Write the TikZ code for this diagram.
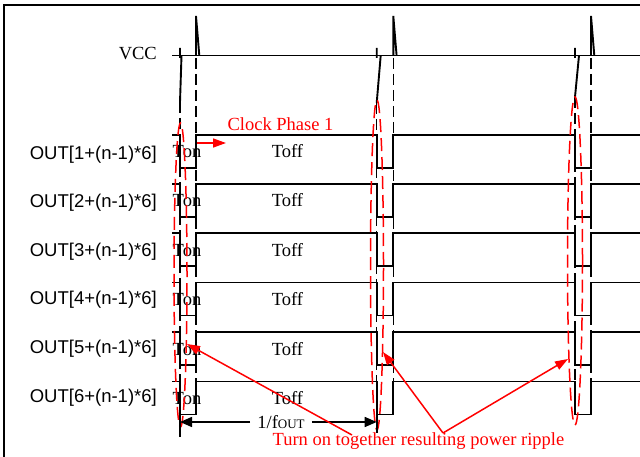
\documentclass[tikz,border=0pt]{standalone}
\usepackage{fontspec}
\setmainfont{Liberation Serif}
\newfontfamily\arialfont{Liberation Sans}
\usetikzlibrary{arrows.meta}

\begin{document}
\begin{tikzpicture}[x=1pt,y=-1pt,
    sig/.style={line width=1.9pt},
    guide/.style={line width=1.5pt,dash pattern=on 11pt off 5pt},
    ring/.style={red,line width=1.5pt,dash pattern=on 13pt off 6pt},
    txt/.style={font=\fontsize{18.5}{22}\selectfont,inner sep=0pt},
    outlbl/.style={font=\arialfont\fontsize{18.5}{22}\selectfont,inner sep=0pt,anchor=base east},
    hint/.style={red,line width=1.5pt,-{Triangle[length=13pt,width=9pt]}},
    dim/.style={line width=1.5pt,-{Triangle[length=12pt,width=10pt]}}]
    \useasboundingbox (0,0) rectangle (640,457);
    \draw[line width=1.8pt] (4,457) -- (4,5) -- (640,5);

    \node[txt,anchor=base east] (vcc) at (157,59.5) {VCC};
    \draw[sig] (172,55.5) -- (640,55.5);
    \foreach \a/\b/\d/\e in {180/196/1.5/102, 376.7/393.3/4/103, 575/591/4/97}{
        \draw[guide] (\a,\e) -- (\a,414.5);
        \draw[guide] (\b,58) -- (\b,414.5);
        \draw[sig] (\a,48) -- (\a,58) (\a,\e) -- (\a+\d,55.5);
        \draw[sig] (\b,55.5) -- (\b,16) -- (\b+3.3,55.5);
    }

    \foreach \i/\h/\y in {1/135/159.5, 2/184/208, 3/233/256.5, 4/282.5/305, 5/332/353.5, 6/381.5/402}{
        \pgfmathsetmacro\l{\h+33}
        \draw[sig] (172,\h) -- (180,\h) -- (180,\l) -- (196,\l) -- (196,\h)
            -- (376.7,\h) -- (376.7,\l) -- (393.3,\l) -- (393.3,\h)
            -- (575,\h) -- (575,\l) -- (591,\l) -- (591,\h) -- (640,\h);
        \node[outlbl] (out\i) at (157,\y) {OUT[\i+(n-1)*6]};
        \node[txt,anchor=base] (ton\i) at (187,\h+23) {Ton};
        \node[txt,anchor=base] (toff\i) at (287.5,\h+23) {Toff};
    }

    \draw[ring] (180.5,275) ellipse [x radius=6.5pt, y radius=152pt];
    \draw[ring] (377,265) ellipse [x radius=6.5pt, y radius=165pt];
    \draw[ring] (575,261) ellipse [x radius=7.5pt, y radius=164pt];

    \node[txt,red,anchor=base] (phase) at (280.5,131) {Clock Phase 1};
    \coordinate (ph_a) at (197,143);
    \coordinate (ph_b) at (226,143);
    \draw[hint] (ph_a) -- (ph_b);

    \draw[sig] (180,414.5) -- (180,437) (376.7,414.5) -- (376.7,433);
    \node[txt,inner xsep=7pt] (fout) at (281,422) {1/f{\fontsize{13}{14}\selectfont OUT}};
    \coordinate (f_a) at (180,422);
    \coordinate (f_b) at (376.7,422);
    \draw[dim] (fout) -- (f_a);
    \draw[dim] (fout) -- (f_b);

    \node[txt,red,anchor=base] (ripple) at (418.5,445) {Turn on together resulting power ripple};
    \coordinate (r_a) at (352,435);
    \coordinate (r_b) at (443,433);
    \coordinate (t_1) at (187,344);
    \coordinate (t_2) at (383,352);
    \coordinate (t_3) at (568,359);
    \draw[hint] (r_a) -- (t_1);
    \draw[hint] (r_b) -- (t_2);
    \draw[hint] (r_b) -- (t_3);
\end{tikzpicture}
\end{document}
